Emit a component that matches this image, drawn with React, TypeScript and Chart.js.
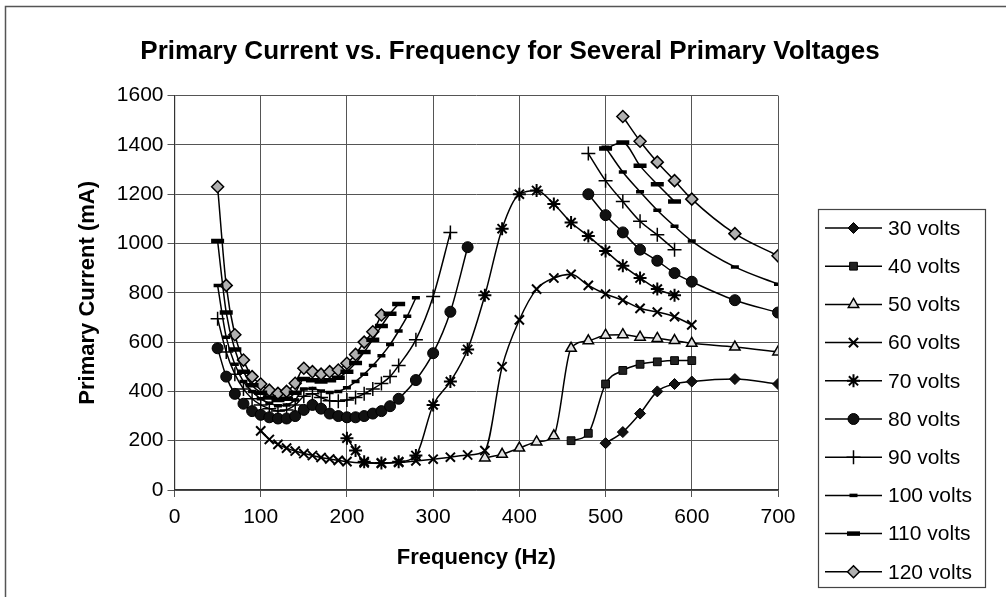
import React, { useEffect, useRef } from 'react';
import { Chart, registerables } from 'chart.js';
import { drawPoint } from 'chart.js/helpers';

Chart.register(...registerables);

const FONT = '"Liberation Sans", Arial, Helvetica, sans-serif';

const chartTitle = 'Primary Current vs. Frequency for Several Primary Voltages';
const xTitle = 'Frequency (Hz)';
const yTitle = 'Primary Current (mA)';
const xTickValues = [0, 100, 200, 300, 400, 500, 600, 700];
const yTickValues = [0, 200, 400, 600, 800, 1000, 1200, 1400, 1600];
const seriesNames = ['30 volts', '40 volts', '50 volts', '60 volts', '70 volts', '80 volts', '90 volts', '100 volts', '110 volts', '120 volts'];

// 30 volts
const f30 = [500, 520, 540, 560, 580, 600, 650, 700];
const i30 = [190, 235, 310, 400, 430, 440, 450, 430];
// 40 volts
const f40 = [460, 480, 500, 520, 540, 560, 580, 600];
const i40 = [200, 230, 430, 485, 510, 520, 525, 525];
// 50 volts
const f50 = [360, 380, 400, 420, 440, 460, 480, 500, 520, 540, 560, 580, 600, 650, 700];
const i50 = [130, 145, 170, 195, 220, 575, 605, 628, 630, 620, 615, 606, 595, 580, 560];
// 60 volts
const f60 = [100, 110, 120, 130, 140, 150, 160, 170, 180, 190, 200, 220, 240, 260, 280, 300, 320, 340, 360, 380, 400, 420, 440, 460, 480, 500, 520, 540, 560, 580, 600];
const i60 = [240, 205, 185, 170, 158, 148, 140, 132, 126, 120, 115, 110, 108, 112, 118, 125, 133, 142, 160, 500, 690, 815, 860, 875, 830, 795, 770, 737, 722, 703, 670];
// 70 volts
const f70 = [200, 210, 220, 240, 260, 280, 300, 320, 340, 360, 380, 400, 420, 440, 460, 480, 500, 520, 540, 560, 580];
const i70 = [210, 160, 115, 110, 115, 140, 345, 440, 570, 790, 1060, 1200, 1215, 1160, 1085, 1030, 970, 910, 860, 815, 790];
// 80 volts (low and high branches)
const f80Low = [50, 60, 70, 80, 90, 100, 110, 120, 130, 140, 150, 160, 170, 180, 190, 200, 210, 220, 230, 240, 250, 260, 280, 300, 320, 340];
const i80Low = [575, 460, 390, 350, 320, 305, 295, 290, 290, 300, 325, 345, 330, 310, 300, 295, 295, 300, 310, 320, 340, 370, 446, 555, 723, 985];
const f80High = [480, 500, 520, 540, 560, 580, 600, 650, 700];
const i80High = [1200, 1115, 1045, 975, 930, 880, 845, 770, 720];
// 90 volts
const f90Low = [50, 60, 70, 80, 90, 100, 110, 120, 130, 140, 150, 160, 170, 180, 190, 200, 210, 220, 230, 240, 250, 260, 280, 300, 320];
const i90Low = [695, 560, 470, 410, 370, 345, 330, 320, 325, 345, 380, 390, 375, 362, 360, 365, 375, 390, 410, 432, 460, 505, 610, 785, 1045];
const f90High = [480, 500, 520, 540, 560, 580];
const i90High = [1365, 1255, 1170, 1090, 1035, 975];
// 100 volts
const f100Low = [50, 60, 70, 80, 90, 100, 110, 120, 130, 140, 150, 160, 170, 180, 190, 200, 210, 220, 230, 240, 250, 260, 270, 280];
const i100Low = [830, 620, 510, 440, 400, 370, 352, 342, 345, 365, 410, 412, 402, 396, 400, 415, 440, 470, 505, 545, 590, 645, 705, 780];
const f100High = [500, 520, 540, 560, 580, 600, 650, 700];
const i100High = [1390, 1290, 1210, 1135, 1070, 1010, 905, 835];
// 110 volts
const f110Low = [50, 60, 70, 80, 90, 100, 110, 120, 130, 140, 150, 160, 170, 180, 190, 200, 210, 220, 230, 240, 250, 260];
const i110Low = [1010, 720, 570, 480, 425, 395, 375, 365, 370, 395, 450, 445, 440, 445, 455, 480, 515, 560, 610, 665, 715, 755];
const f110High = [500, 520, 540, 560, 580];
const i110High = [1385, 1410, 1315, 1240, 1170];
// 120 volts
const f120Low = [50, 60, 70, 80, 90, 100, 110, 120, 130, 140, 150, 160, 170, 180, 190, 200, 210, 220, 230, 240];
const i120Low = [1230, 830, 630, 527, 460, 430, 405, 392, 400, 433, 494, 480, 470, 480, 487, 514, 550, 600, 642, 710];
const f120High = [520, 540, 560, 580, 600, 650, 700];
const i120High = [1515, 1415, 1330, 1255, 1180, 1040, 950];

type Pt = { x: number; y: number | null };
const pts = (fs: number[], vs: number[]): Pt[] => fs.map((x, i) => ({ x, y: vs[i] }));
const withGap = (a: Pt[], b: Pt[]): Pt[] => [...a, { x: (a[a.length - 1].x + b[0].x) / 2, y: null }, ...b];

const seriesData: Pt[][] = [
  pts(f30, i30),
  pts(f40, i40),
  pts(f50, i50),
  pts(f60, i60),
  pts(f70, i70),
  withGap(pts(f80Low, i80Low), pts(f80High, i80High)),
  withGap(pts(f90Low, i90Low), pts(f90High, i90High)),
  withGap(pts(f100Low, i100Low), pts(f100High, i100High)),
  withGap(pts(f110Low, i110Low), pts(f110High, i110High)),
  withGap(pts(f120Low, i120Low), pts(f120High, i120High)),
];

const markerStyles = [
  { pointStyle: 'rectRot', radius: 5.5, fill: '#111', borderWidth: 1 },
  { pointStyle: 'rect', radius: 5.5, fill: '#222', borderWidth: 1 },
  { pointStyle: 'triangle', radius: 6, fill: '#e2e2e2', borderWidth: 1.5 },
  { pointStyle: 'crossRot', radius: 6.5, fill: '#000', borderWidth: 2 },
  { pointStyle: 'star', radius: 6.5, fill: '#000', borderWidth: 2 },
  { pointStyle: 'circle', radius: 5.5, fill: '#111', borderWidth: 1 },
  { pointStyle: 'cross', radius: 7, fill: '#000', borderWidth: 1.5 },
  { pointStyle: 'line', radius: 4, fill: '#000', borderWidth: 3.5 },
  { pointStyle: 'line', radius: 6.5, fill: '#000', borderWidth: 4.5 },
  { pointStyle: 'rectRot', radius: 6, fill: '#b0b0b0', borderWidth: 1.5 },
];

const decorPlugin = {
  id: 'decor',
  beforeDraw(chart: any) {
    const ctx = chart.ctx;
    ctx.save();
    ctx.fillStyle = '#ffffff';
    ctx.fillRect(0, 0, chart.width, chart.height);
    ctx.strokeStyle = '#555';
    ctx.lineWidth = 1.5;
    ctx.strokeRect(5.5, 6.5, 1010, 610);
    ctx.restore();
  },
  afterDraw(chart: any) {
    const ctx = chart.ctx;
    ctx.save();
    ctx.fillStyle = '#000';
    ctx.textAlign = 'center';
    ctx.textBaseline = 'middle';
    ctx.font = `bold 26px ${FONT}`;
    ctx.fillText(chartTitle, 510, 52);

    ctx.strokeStyle = '#444';
    ctx.lineWidth = 1.2;
    ctx.strokeRect(818.5, 209.5, 167, 378);

    ctx.font = `21px ${FONT}`;
    ctx.textAlign = 'left';
    seriesNames.forEach((name, i) => {
      const y = 228 + i * 38.2;
      const m = markerStyles[i];
      ctx.strokeStyle = '#000';
      ctx.lineWidth = 1.5;
      ctx.beginPath();
      ctx.moveTo(825, y);
      ctx.lineTo(882, y);
      ctx.stroke();
      ctx.fillStyle = m.fill;
      ctx.strokeStyle = '#000';
      ctx.lineWidth = m.borderWidth;
      drawPoint(ctx, { pointStyle: m.pointStyle as any, radius: m.radius, borderWidth: m.borderWidth, rotation: 0 } as any, 853.5, y);
      ctx.fillStyle = '#000';
      ctx.fillText(name, 888, y + 1);
    });
    ctx.restore();
  },
};

export default function App() {
  const ref = useRef<HTMLCanvasElement | null>(null);
  useEffect(() => {
    if (!ref.current) return;
    const datasets = seriesData.map((data, i) => ({
      label: seriesNames[i],
      data,
      borderColor: '#000',
      borderWidth: 1.5,
      backgroundColor: markerStyles[i].fill,
      pointStyle: markerStyles[i].pointStyle as any,
      pointRadius: markerStyles[i].radius,
      pointBorderWidth: markerStyles[i].borderWidth,
      pointBackgroundColor: markerStyles[i].fill,
      pointBorderColor: '#000',
      cubicInterpolationMode: 'monotone' as const,
      spanGaps: false,
      showLine: true,
    }));
    const chart = new Chart(ref.current, {
      type: 'line',
      data: { datasets },
      plugins: [decorPlugin],
      options: {
        responsive: false,
        animation: false,
        devicePixelRatio: 1,
        layout: { padding: { left: 60, right: 228, top: 95.6, bottom: 0 } },
        plugins: { legend: { display: false }, title: { display: false }, tooltip: { enabled: false } },
        scales: {
          x: {
            type: 'linear',
            min: 0,
            max: 700,
            afterBuildTicks: (s: any) => { s.ticks = xTickValues.map((v) => ({ value: v })); },
            afterFit: (s: any) => { s.height = 107; },
            grid: { color: '#555', lineWidth: 1, tickLength: 7, drawTicks: true },
            border: { color: '#333', width: 1.2 },
            ticks: { color: '#000', font: { family: FONT, size: 21 }, padding: 8, maxRotation: 0, callback: (v: any) => String(v) },
            title: { display: true, text: xTitle, color: '#000', font: { family: FONT, size: 22, weight: 'bold' }, padding: { top: 4, bottom: 26 } },
          },
          y: {
            type: 'linear',
            min: 0,
            max: 1600,
            afterBuildTicks: (s: any) => { s.ticks = yTickValues.map((v) => ({ value: v })); },
            afterFit: (s: any) => { s.width = 114.5; },
            grid: { color: '#555', lineWidth: 1, tickLength: 7, drawTicks: true },
            border: { color: '#333', width: 1.2 },
            ticks: { color: '#000', font: { family: FONT, size: 21 }, padding: 4, callback: (v: any) => String(v) },
            title: { display: true, text: yTitle, color: '#000', font: { family: FONT, size: 22, weight: 'bold' }, padding: { top: 15, bottom: 0 } },
          },
        },
      },
    } as any);
    return () => chart.destroy();
  }, []);
  return (
    <div style={{ position: 'fixed', left: 0, top: 0, width: 1006, height: 597, background: '#fff' }}>
      <canvas ref={ref} width={1006} height={597} style={{ width: 1006, height: 597, display: 'block' }} />
    </div>
  );
}
